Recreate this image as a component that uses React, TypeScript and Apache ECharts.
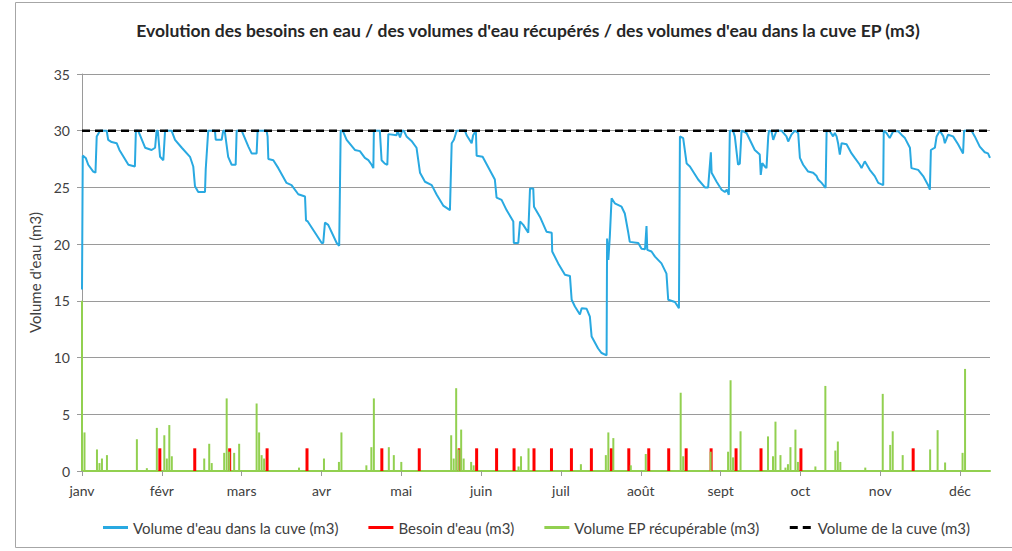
import React, { useEffect, useRef } from "react";
import * as echarts from "echarts";

const TITLE =
  "Evolution des besoins en eau / des volumes d'eau récupérés / des volumes d'eau dans la cuve EP (m3)";
const Y_NAME = "Volume d'eau (m3)";
const SERIES_NAMES = [
  "Volume d'eau dans la cuve (m3)",
  "Besoin d'eau (m3)",
  "Volume EP récupérable (m3)",
  "Volume de la cuve (m3)",
];

const monthLabels = ["janv", "févr", "mars", "avr", "mai", "juin", "juil", "août", "sept", "oct", "nov", "déc"];
const monthLengths = [31, 28, 31, 30, 31, 30, 31, 31, 30, 31, 30, 31];
const dayCount = 365;
const tickDays = [0, 32, 64, 96, 128, 160, 192, 224, 256, 288, 320, 352];

// Volume d'eau dans la cuve (m3) : [jour, volume]
const volumeCuve: number[][] = [
  [0, 16], [0.3, 27.8], [1.5, 27.6], [2.5, 27.0], [4.5, 26.4], [5.4, 26.3], [5.9, 29.5], [7.2, 30], [9.9, 30],
  [10.5, 29.2], [11.9, 29.0], [13.9, 28.9], [15, 28.3], [18.6, 27.0], [21.2, 26.85], [21.6, 30], [22.5, 30],
  [25.3, 28.5], [27.9, 28.3], [29.3, 28.5], [29.9, 30], [30.4, 30], [31.3, 27.7], [32.6, 27.4], [33.3, 30],
  [35.9, 30], [37.3, 29.2], [40, 28.5], [43.3, 27.7], [44.6, 26.85], [45.3, 25.1], [46.6, 24.6], [49.3, 24.6],
  [49.6, 26.6], [50.6, 30], [53.3, 30], [53.6, 29.2], [56, 29.2], [56.6, 30], [57.2, 30], [58.6, 27.7],
  [60, 27.0], [61.6, 27.0], [62, 30], [64, 30], [66.7, 28.6], [68, 28.0], [70, 28.0], [70.4, 30], [74, 30],
  [74.4, 29.5], [74.7, 27.5], [76.7, 27.4], [78.7, 26.7], [82, 25.4], [84, 25.2], [86.7, 24.4], [89.4, 24.2],
  [89.8, 22.1], [90.5, 22.0], [96.1, 20.1], [96.7, 20.1], [97.4, 21.9], [98.7, 21.7], [102.1, 20.1],
  [103.1, 19.85], [103.7, 30], [104.5, 30], [106.1, 29.2], [109.4, 28.3], [111.4, 28.2], [113.4, 27.6],
  [114.8, 27.4], [116.1, 27.0], [116.8, 26.7], [117, 30], [119.4, 30], [120.1, 27.4], [121.4, 27.1],
  [122.4, 27.0], [122.8, 29.7], [126.1, 29.6], [126.5, 30], [127.5, 29.4], [128.3, 30], [129, 30],
  [130.1, 29.5], [132.1, 29.1], [134.1, 28.5], [135.5, 26.3], [137.5, 25.5], [140.2, 25.2], [142.2, 24.35],
  [144.8, 23.4], [147.5, 23.0], [148.2, 28.9], [149.1, 29.2], [150.2, 30], [153.5, 30], [154.2, 29.6],
  [156.2, 28.9], [156.8, 29.6], [157.9, 30], [158.2, 27.8], [160.6, 27.7], [165.5, 25.7], [166.2, 24.1],
  [168.2, 23.9], [170.2, 23.0], [172.9, 22.0], [173.1, 20.1], [174.9, 20.1], [175.6, 22.0], [176.9, 21.7],
  [178.9, 21.0], [179.6, 24.9], [180.9, 24.9], [181.2, 23.3], [183.6, 22.4], [186.2, 21.1], [188.3, 21.0],
  [188.5, 19.35], [190.9, 18.3], [193.6, 17.3], [195.6, 17.2], [196.3, 15.1], [197.6, 14.5], [199.6, 13.8],
  [200.3, 14.35], [202.3, 14.3], [203.6, 13.6], [204.3, 11.85], [206.9, 10.8], [208.3, 10.4], [210.3, 10.2],
  [210.5, 20.5], [211, 18.6], [211.6, 20.7], [212.3, 24.05], [213.6, 23.6], [216.3, 23.3], [217.6, 22.7],
  [219, 21.0], [219.6, 20.2], [223, 20.1], [224.3, 19.6], [225.7, 19.55], [226.3, 21.6], [226.6, 19.5],
  [228.3, 19.35], [229.7, 18.9], [232.3, 18.3], [234.3, 17.4], [235, 15.1], [237.7, 14.9], [239.3, 14.35],
  [239.7, 29.5], [241, 29.35], [242.4, 27.1], [243.7, 26.85], [247, 25.7], [249.7, 25.0], [251, 25.0],
  [252.1, 28.1], [252.4, 26.3], [254.4, 25.5], [256.4, 24.8], [257.7, 24.6], [258.5, 24.8], [259.3, 24.35],
  [259.7, 30], [261, 30], [261.7, 29.5], [263, 27.0], [263.7, 27.1], [264.4, 30], [266.4, 29.8],
  [269.7, 28.3], [271.7, 27.9], [272.1, 26.1], [272.7, 27.15], [273.7, 26.85], [274.4, 26.7], [275.1, 29.5],
  [275.4, 30], [276.4, 29.95], [277.1, 29.2], [278.4, 30], [280.4, 30], [282.4, 29.5], [283.1, 29.05],
  [284.4, 29.65], [285.8, 30], [287.1, 29.8], [287.8, 27.6], [289.1, 27.0], [291.1, 26.4], [293.1, 26.3],
  [294.5, 26.0], [295.1, 25.7], [296.5, 25.4], [298.1, 24.95], [298.5, 30], [299.8, 29.95], [301.1, 29.5],
  [301.8, 29.8], [302.5, 29.5], [303.1, 28.9], [303.8, 27.9], [304.5, 28.9], [306.5, 28.8], [308.5, 28.0],
  [309.8, 27.6], [311.8, 27.0], [312.5, 26.7], [313.8, 27.3], [315.8, 26.55], [317.8, 26.0], [319.2, 25.4],
  [321.2, 25.2], [321.4, 30], [322.5, 29.8], [323.8, 29.35], [325.2, 29.95], [327.2, 29.95], [328.5, 29.65],
  [329.9, 29.35], [331.9, 28.5], [332.5, 26.7], [335.2, 26.55], [337.2, 26.0], [339.2, 25.2], [339.9, 24.8],
  [340.3, 28.3], [341.9, 28.5], [342.6, 29.5], [343.9, 30], [345.3, 29.5], [345.9, 28.9], [347.2, 29.65],
  [349.2, 29.5], [351.2, 28.8], [353.2, 28.0], [353.6, 30], [356.6, 30], [357.9, 29.5], [359.9, 28.6],
  [361.9, 28.1], [363.2, 28.0], [364, 27.6],
];

// Besoin d'eau (m3)
const besoinDays = [31, 45, 59, 74, 90, 120, 135, 151, 158, 166, 173, 181, 188, 196, 204, 212, 219, 227, 235, 242, 252, 262, 272, 288, 333];
const besoinValue = 2;

// Volume EP récupérable (m3)
const pluieDays = [
  0, 1, 6, 7, 8, 10, 22, 26, 30, 33, 34, 35, 36, 49, 51, 52, 57, 58, 59, 61, 63, 70, 71, 72, 73, 87,
  97, 103, 104, 114, 116, 117, 123, 125, 128, 148, 149, 150, 151, 152, 153, 156, 157, 175, 176, 179,
  200, 210, 211, 213, 220, 226, 240, 241, 252, 259, 260, 261, 264,
  275, 277, 278, 280, 282, 283, 284, 286, 287, 294, 298, 302, 303, 304, 314, 321, 324, 325, 329,
  340, 343, 346, 353, 354,
];
const pluieValues = [
  15, 3.4, 1.9, 0.7, 1.1, 1.4, 2.8, 0.25, 3.8, 3.15, 1.1, 4.05, 1.3, 1.1, 2.4, 0.7, 1.6, 6.4, 1.7, 1.6, 2.4, 5.95, 3.4, 1.4, 1.1, 0.3,
  1.1, 0.8, 3.4, 0.5, 2.1, 6.4, 2.1, 1.4, 0.8, 3.15, 1.1, 7.3, 1.9, 3.65, 1.1, 0.8, 0.5, 0.4, 1.3, 2.0,
  0.6, 1.4, 3.4, 2.9, 0.5, 1.5, 6.9, 1.3, 1.7, 1.7, 8.0, 1.2, 3.5,
  3.05, 1.3, 4.35, 1.4, 0.3, 0.6, 2.1, 3.65, 0.8, 0.4, 7.5, 1.8, 2.6, 0.8, 0.3, 6.8, 2.3, 3.5, 1.4,
  1.9, 3.6, 0.75, 1.6, 9.0,
];

// Volume de la cuve (m3)
const capacite = 30;

const yMin = 0;
const yMax = 35;
const yStep = 5;

const BLUE = "#29a9e1";
const RED = "#ff0000";
const GREEN = "#92d050";
const AXIS_GRAY = "#9a9a9a";
const TEXT_GRAY = "#404040";

function monthOfDay(d: number): string {
  let acc = 0;
  for (let m = 0; m < 12; m++) {
    acc += monthLengths[m];
    if (d < acc) return monthLabels[m];
  }
  return monthLabels[11];
}

const FONT = "Lato, 'Open Sans', sans-serif";

export default function App() {
  const ref = useRef<HTMLDivElement>(null);
  useEffect(() => {
    if (!ref.current) return;
    const chart = echarts.init(ref.current, null, { renderer: "svg" });
    const besoin = besoinDays.map((d) => [d, besoinValue]);
    const pluie = pluieDays.map((d, i) => [d, pluieValues[i]]);
    chart.setOption({
      animation: false,
      textStyle: { fontFamily: FONT },
      graphic: [
        {
          type: "rect",
          silent: true,
          shape: { x: 15.5, y: 2.5, width: 1030, height: 545 },
          style: { fill: "none", stroke: "#a6a6a6", lineWidth: 1 },
        },
        {
          type: "text",
          x: 528,
          y: 30,
          style: {
            text: TITLE,
            align: "center",
            verticalAlign: "middle",
            font: `bold 17.5px ${FONT}`,
            fill: "#262626",
          },
        },
      ],
      legend: {
        left: 98,
        top: 515,
        itemWidth: 25,
        itemHeight: 3,
        itemGap: 30,
        textStyle: { fontSize: 15, color: TEXT_GRAY, fontFamily: FONT },
        data: [
          { name: SERIES_NAMES[0], icon: "rect" },
          { name: SERIES_NAMES[1], icon: "rect" },
          { name: SERIES_NAMES[2], icon: "rect" },
          { name: SERIES_NAMES[3], icon: "path://M0,0h8v3h-8z M13,0h8v3h-8z" },
        ],
      },
      grid: { left: 82, right: 22, top: 74, bottom: 80, containLabel: false },
      xAxis: {
        type: "value",
        min: 0,
        max: dayCount - 1,
        splitLine: { show: false },
        axisLine: { show: true, onZero: false, lineStyle: { color: GREEN, width: 2 } },
        axisTick: { show: true, length: 5, customValues: tickDays, lineStyle: { color: AXIS_GRAY } },
        axisLabel: {
          customValues: tickDays,
          formatter: (v: number) => monthOfDay(v),
          fontSize: 14,
          color: TEXT_GRAY,
          margin: 12,
          fontFamily: FONT,
        },
      },
      yAxis: {
        type: "value",
        min: yMin,
        max: yMax,
        interval: yStep,
        name: Y_NAME,
        nameLocation: "middle",
        nameGap: 33,
        nameTextStyle: { fontSize: 15, color: TEXT_GRAY, fontFamily: FONT },
        axisLine: { show: true, lineStyle: { color: AXIS_GRAY } },
        axisTick: { show: true, length: 5, lineStyle: { color: AXIS_GRAY } },
        splitLine: { show: true, lineStyle: { color: AXIS_GRAY, width: 1 } },
        axisLabel: { fontSize: 14, color: TEXT_GRAY, margin: 12, fontFamily: FONT },
      },
      series: [
        {
          name: SERIES_NAMES[0],
          type: "line",
          data: volumeCuve,
          symbol: "none",
          lineStyle: { color: BLUE, width: 2 },
          itemStyle: { color: BLUE },
          z: 2,
        },
        {
          name: SERIES_NAMES[1],
          type: "bar",
          data: besoin,
          barWidth: 3,
          barGap: "-100%",
          itemStyle: { color: RED },
          z: 3,
        },
        {
          name: SERIES_NAMES[2],
          type: "bar",
          data: pluie,
          barWidth: 2,
          barGap: "-100%",
          itemStyle: { color: GREEN },
          z: 4,
        },
        {
          name: SERIES_NAMES[3],
          type: "line",
          data: [
            [0, capacite],
            [dayCount - 1, capacite],
          ],
          symbol: "none",
          lineStyle: { color: "#000000", width: 2.5, type: [8, 5] },
          itemStyle: { color: "#000000" },
          z: 5,
        },
      ],
    });
    return () => chart.dispose();
  }, []);
  return (
    <div
      ref={ref}
      style={{ position: "fixed", left: 0, top: 0, width: 1012, height: 551, background: "#fff" }}
    />
  );
}
